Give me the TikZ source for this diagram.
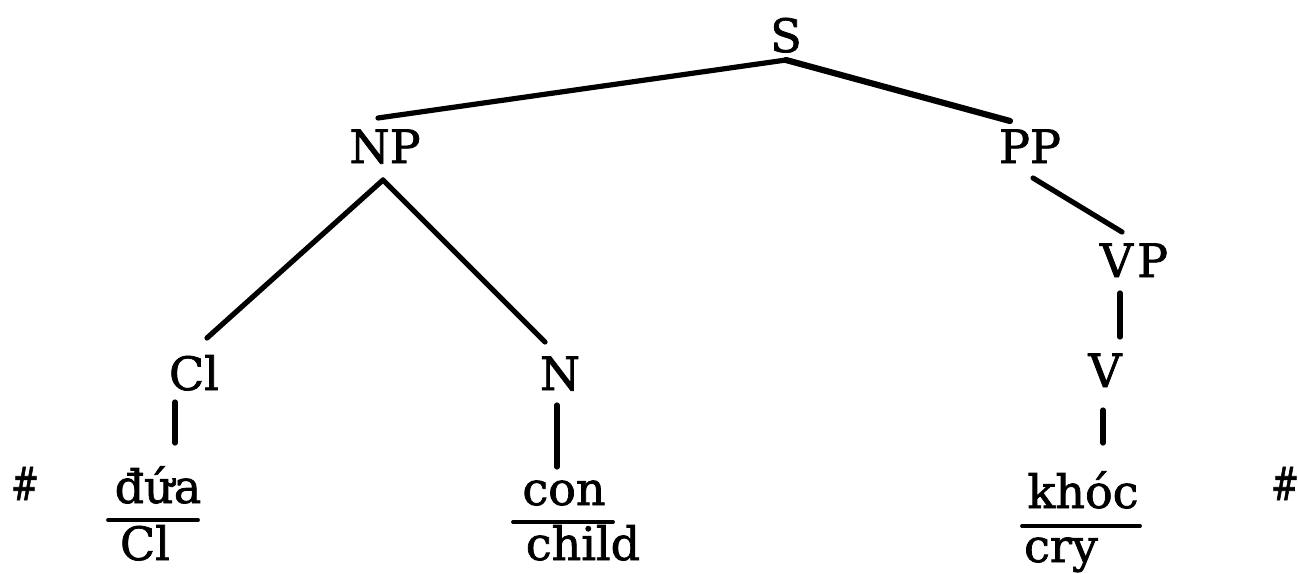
\documentclass[tikz,border=0pt]{standalone}
\usepackage{fontspec}
\setmainfont[FakeBold=1.6]{DejaVu Serif}
\begin{document}
\begin{tikzpicture}[x=1pt,y=-1pt,
  lab/.style={anchor=base,inner sep=0pt,outer sep=0pt,text height=34pt,text depth=0pt,font=\fontsize{46}{55}\selectfont},
  br/.style={line width=5.2pt,line cap=round},
  ul/.style={line width=3.8pt,line cap=round}]
\useasboundingbox (0,0) rectangle (1298,573);
% nodes
\node[lab] (S) at (786,52) {S};
\node[lab] (NP) at (385,163) {NP};
\node[lab] (PP) at (1030,163) {PP};
\node[lab] (VP) at (1134,277) {V\kern4pt P};
\node[lab] (Cl) at (194,390) {Cl};
\node[lab] (N) at (560,390) {N};
\node[lab] (V) at (1105,387) {V};
\node[lab] (dua) at (158,503) {đứa};
\node[lab] (con) at (564,505) {con};
\node[lab] (khoc) at (1083,508) {khóc};
\node[lab] (gCl) at (145,560) {Cl};
\node[lab] (child) at (583,560) {child};
\node[lab] (cry) at (1061,562) {cry};
\node[lab] (h1) at (25,500) {\scalebox{0.72}[1]{\#}};
\node[lab] (h2) at (1285,500) {\scalebox{0.72}[1]{\#}};
% branches
\draw[br] ([yshift=-8pt]S.south) -- ([xshift=-7pt,yshift=11pt]NP.north);
\draw[br,line width=6.2pt] ([yshift=-8pt]S.south) -- ([xshift=-20pt,yshift=8pt]PP.north);
\draw[br] ([xshift=-2pt,yshift=-17pt]NP.south) -- ([xshift=13pt,yshift=18pt]Cl.north);
\draw[br] ([xshift=-2pt,yshift=-17pt]NP.south) -- ([xshift=-15pt,yshift=14pt]N.north);
\draw[br] ([xshift=3pt,yshift=-15pt]PP.south) -- ([xshift=-12pt,yshift=11pt]VP.north);
\draw[br] ([xshift=-14pt,yshift=-16pt]VP.south) -- ([xshift=15pt,yshift=16pt]V.north);
\draw[br] ([xshift=-2pt,yshift=-23pt]V.south) -- ([xshift=20pt,yshift=31pt]khoc.north);
\draw[br] ([xshift=-19pt,yshift=-12pt]Cl.south) -- ([xshift=17pt,yshift=26pt]dua.north);
\draw[br] ([xshift=-3pt,yshift=-15pt]N.south) -- ([xshift=-7pt,yshift=4pt]con.north);
% underlines
\draw[ul] ([xshift=-50pt,yshift=-17pt]dua.south) -- ([xshift=40pt,yshift=-17pt]dua.south);
\draw[ul] ([xshift=-51pt,yshift=-17pt]con.south) -- ([xshift=49pt,yshift=-17pt]con.south);
\draw[ul] ([xshift=-61pt,yshift=-18pt]khoc.south) -- ([xshift=57pt,yshift=-18pt]khoc.south);
\end{tikzpicture}
\end{document}
